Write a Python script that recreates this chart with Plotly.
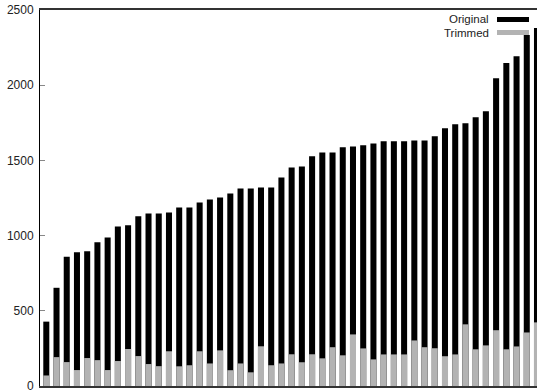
import plotly.graph_objects as go

# Per-item sizes, sorted by original size
items = list(range(1, 50))
original = [428, 653, 860, 889, 896, 956, 987, 1060, 1069, 1129,
            1147, 1147, 1153, 1187, 1187, 1220, 1240, 1253, 1280, 1313,
            1313, 1320, 1320, 1387, 1453, 1460, 1527, 1553, 1553, 1587,
            1593, 1600, 1613, 1627, 1627, 1627, 1633, 1633, 1660, 1713,
            1740, 1747, 1787, 1827, 2047, 2147, 2193, 2333, 2380]
trimmed = [70, 192, 159, 106, 186, 172, 106, 166, 246, 199,
           146, 132, 231, 131, 138, 231, 150, 237, 105, 150,
           91, 264, 138, 150, 211, 158, 211, 184, 258, 204,
           343, 250, 177, 210, 210, 210, 303, 258, 251, 198,
           210, 410, 244, 270, 371, 244, 263, 356, 423]
y_ticks = [0, 500, 1000, 1500, 2000, 2500]

W, H = 537, 392
ML, MR, MT, MB = 40, 0, 10, 6
BLACK = "#000000"
GREY = "#b3b3b3"
FONT = "Liberation Sans, Arial, sans-serif"

fig = go.Figure()
fig.add_trace(go.Bar(x=items, y=original, name="Original",
                     marker=dict(color=BLACK, line=dict(width=0)), width=0.59))
fig.add_trace(go.Bar(x=items, y=trimmed, name="Trimmed",
                     marker=dict(color=GREY, line=dict(width=0)), width=0.59))

# legend drawn by hand: label on the left, swatch on the right
plot_w = W - ML - MR
plot_h = H - MT - MB


def px(x):
    return (x - ML) / plot_w


def py(y):
    return (H - MB - y) / plot_h


legend_rows = [("Original", BLACK, 19.5), ("Trimmed", GREY, 32.5)]
for label, color, yc in legend_rows:
    fig.add_annotation(x=px(491), y=py(yc), xref="paper", yref="paper",
                       text=label, showarrow=False, xanchor="right", yanchor="middle",
                       font=dict(family=FONT, size=11.5, color="#222"))
    fig.add_shape(type="rect", xref="paper", yref="paper",
                  x0=px(497), x1=px(529), y0=py(yc + 2.5), y1=py(yc - 2.5),
                  fillcolor=color, line=dict(width=0))

fig.update_layout(
    width=W, height=H,
    margin=dict(l=ML, r=MR, t=MT, b=MB, pad=0),
    barmode="overlay",
    showlegend=False,
    plot_bgcolor="white", paper_bgcolor="white",
    font=dict(family=FONT, size=12, color="#222"),
)
fig.update_xaxes(range=[0.384, 49.0], showticklabels=False, ticks="",
                 showgrid=False, zeroline=False, showline=True,
                 linecolor="#333", linewidth=1.5, mirror=True)
fig.update_yaxes(range=[0, 2500], tickvals=y_ticks, ticks="inside", ticklen=5,
                 tickcolor="#888", tickwidth=1, showgrid=False, zeroline=False,
                 showline=True, linecolor="#000", linewidth=1,
                 ticklabeloverflow="allow", ticklabelstandoff=3,
                 tickfont=dict(family=FONT, size=12, color="#222"))

fig.write_html("out.html")
